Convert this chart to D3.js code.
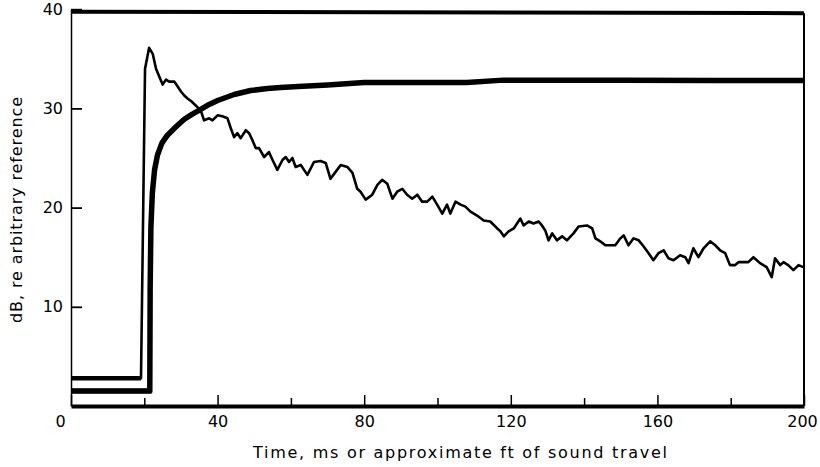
<!DOCTYPE html>
<html><head><meta charset="utf-8">
<script src="https://cdn.jsdelivr.net/npm/d3@7"></script>
<style>
html,body{margin:0;padding:0;background:#fff;}
svg{display:block;}
text{font-family:"DejaVu Sans",sans-serif;fill:#000;}
</style>
</head><body>
<svg id="c" width="820" height="467"></svg>
<script>
// ---- data ----
const xMajorTicks = [0, 40, 80, 120, 160, 200];
const xMinorTicks = [20, 60, 100, 140, 180];
const yTicks = [10, 20, 30, 40];
const xTitle = "Time, ms or approximate ft of sound travel";
const yTitle = "dB, re arbitrary reference";

// thin trace: [time ms, dB]
const reverbTrace = [
  [0,2.8],[19.1,2.8],[20.2,34.0],[21.3,36.1],[22.3,35.5],[23.2,34.0],[24.1,33.2],[25.0,32.4],
  [25.9,32.9],[26.8,32.7],[28.2,32.7],[29.1,32.2],[30.0,31.7],[30.9,31.3],[31.8,31.0],[32.9,30.7],
  [35.4,29.8],[36.3,28.8],[37.7,29.0],[38.6,28.8],[40.0,29.3],[41.3,29.2],[42.7,29.0],[43.6,28.0],
  [44.5,27.1],[45.4,27.5],[46.3,27.0],[47.7,27.8],[48.6,27.5],[49.5,26.8],[50.4,26.0],[51.3,26.0],
  [52.7,25.1],[54.0,25.6],[55.0,24.8],[56.3,23.8],[57.7,24.8],[58.6,25.1],[59.5,24.6],[60.4,25.0],
  [61.3,24.1],[62.7,24.3],[64.5,23.3],[66.3,24.6],[68.1,24.7],[69.5,24.5],[70.8,22.9],[72.2,23.6],
  [73.6,24.3],[75.4,24.1],[76.8,23.5],[78.1,21.9],[79.0,21.6],[80.4,20.8],[82.2,21.3],[83.6,22.3],
  [84.9,22.8],[86.3,22.4],[87.7,20.9],[89.0,21.6],[90.4,21.9],[91.7,21.3],[93.1,20.9],[94.5,21.3],
  [95.8,20.6],[97.2,20.6],[98.6,21.1],[99.9,20.3],[101.3,19.4],[102.6,20.3],[103.5,19.4],[104.9,20.6],
  [106.3,20.3],[107.6,20.1],[109.0,19.6],[110.8,19.2],[112.6,18.7],[114.4,18.6],[116.3,17.9],[117.2,17.6],
  [118.1,17.1],[119.4,17.6],[120.8,17.9],[122.6,18.9],[123.5,18.2],[124.9,18.6],[126.2,18.4],[127.6,18.6],
  [128.5,18.2],[129.4,17.7],[130.3,16.7],[131.3,17.4],[132.6,16.7],[134.0,17.1],[135.3,16.7],[137.1,17.4],
  [138.5,18.1],[140.8,18.2],[142.2,17.9],[143.1,16.9],[144.4,16.6],[145.8,16.2],[148.5,16.2],[149.9,16.9],
  [150.8,17.2],[152.1,16.2],[153.5,16.9],[154.9,16.7],[156.2,16.1],[157.6,15.4],[158.9,14.7],[160.3,15.4],
  [161.7,15.7],[163.0,14.9],[164.4,14.7],[166.2,15.2],[167.6,15.0],[168.5,14.4],[169.8,15.9],[171.2,15.0],
  [172.6,15.9],[174.4,16.6],[175.8,16.2],[177.1,15.7],[178.5,15.4],[179.8,14.2],[181.2,14.2],[182.1,14.5],
  [184.8,14.5],[186.2,15.0],[188.0,14.4],[189.8,14.0],[191.2,13.0],[192.1,14.9],[193.5,14.2],[194.4,14.5],
  [195.7,14.2],[197.1,13.7],[198.5,14.2],[199.8,14.0]
];

// thick integrated curve: [time ms, dB]
const integratedCurve = [
  [0,1.5],[21.5,1.5],[21.6,12],[21.8,18],[22.2,21.5],[22.8,23.8],[23.6,25.3],[24.8,26.5],
  [26.3,27.3],[28.5,28.1],[30.9,28.9],[33.0,29.4],[35.4,29.9],[37.7,30.4],[40.0,30.8],[44.5,31.4],
  [49.0,31.8],[53.6,32.0],[57.2,32.1],[62,32.2],[70,32.35],[80,32.6],[95,32.6],[108,32.6],
  [118,32.85],[150,32.85],[175,32.8],[200,32.8]
];

// top border trace
const ceilingLine = [[0,39.75],[200,39.6]];

// ---- chart ----
const svg = d3.select("#c");
const x = d3.scaleLinear().domain([0, 200]).range([71, 804]);
const y = d3.scaleLinear().domain([0, 40]).range([406, 9.2]);

const line = d3.line().x(d => x(d[0])).y(d => y(d[1]));

// left axis
const gy = svg.append("g").attr("transform", `translate(${x(0)},0)`)
  .call(d3.axisLeft(y).tickValues(yTicks).tickSize(-11).tickSizeOuter(0).tickPadding(8).tickFormat(d3.format("d")));
gy.select(".domain").attr("stroke", "#000").attr("stroke-width", 1.5);
gy.selectAll(".tick line").attr("stroke", "#000").attr("stroke-width", 1.8);
gy.selectAll(".tick text").attr("font-size", 16).attr("font-family", "DejaVu Sans");

// right border
svg.append("line")
  .attr("x1", x(200)).attr("x2", x(200))
  .attr("y1", y(ceilingLine[1][1])).attr("y2", y(0))
  .attr("stroke", "#000").attr("stroke-width", 2);

// bottom axis: minor ticks
const gxm = svg.append("g").attr("transform", `translate(0,${y(0)})`)
  .call(d3.axisBottom(x).tickValues(xMinorTicks).tickSize(-8).tickSizeOuter(0).tickFormat(""));
gxm.select(".domain").remove();
gxm.selectAll(".tick line").attr("stroke", "#000").attr("stroke-width", 1.5);

// bottom axis: major ticks and labels
const gx = svg.append("g").attr("transform", `translate(0,${y(0)})`)
  .call(d3.axisBottom(x).tickValues(xMajorTicks).tickSize(-11).tickSizeOuter(0).tickPadding(10).tickFormat(d3.format("d")));
gx.select(".domain").attr("stroke", "#000").attr("stroke-width", 4);
gx.selectAll(".tick line").attr("stroke", "#000").attr("stroke-width", 1.5);
gx.selectAll(".tick text").attr("font-size", 16).attr("font-family", "DejaVu Sans")
  .attr("dx", d => d === 0 ? -11 : (d === 200 ? -2 : 0));

// top border
svg.append("path").datum(ceilingLine)
  .attr("d", line).attr("fill", "none").attr("stroke", "#000").attr("stroke-width", 4);

// thin trace
svg.append("path").datum(reverbTrace)
  .attr("d", line).attr("fill", "none").attr("stroke", "#000")
  .attr("stroke-width", 2.6).attr("stroke-linejoin", "round");
svg.append("path").datum(reverbTrace.slice(0, 2))
  .attr("d", line).attr("fill", "none").attr("stroke", "#000").attr("stroke-width", 4.5);

// thick integrated curve
svg.append("path").datum(integratedCurve)
  .attr("d", line).attr("fill", "none").attr("stroke", "#000")
  .attr("stroke-width", 5.5).attr("stroke-linejoin", "round");
svg.append("path").datum(integratedCurve.slice(0, 2))
  .attr("d", line).attr("fill", "none").attr("stroke", "#000").attr("stroke-width", 4.5);

// titles
svg.append("text")
  .attr("x", 460).attr("y", 458)
  .attr("text-anchor", "middle").attr("font-size", 16)
  .attr("textLength", 414).attr("lengthAdjust", "spacing")
  .text(xTitle);

svg.append("text")
  .attr("transform", "translate(22,210) rotate(-90)")
  .attr("text-anchor", "middle").attr("font-size", 16)
  .attr("textLength", 226).attr("lengthAdjust", "spacing")
  .text(yTitle);
</script>
</body></html>
